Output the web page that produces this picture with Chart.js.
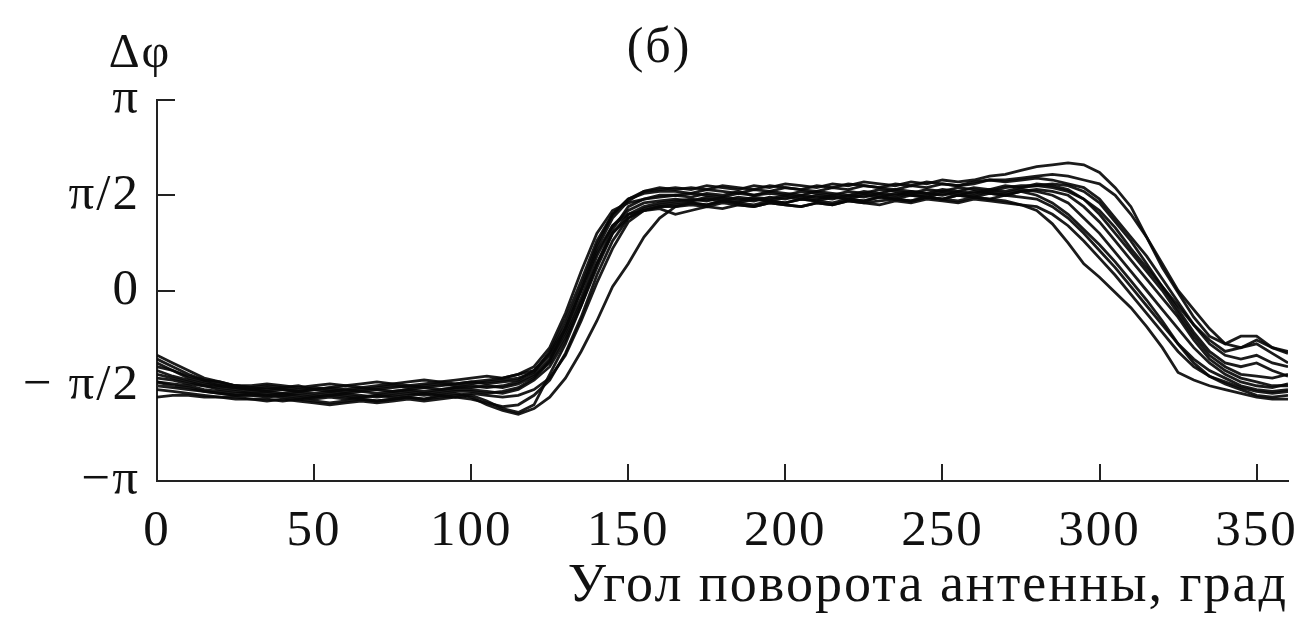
<!DOCTYPE html>
<html>
<head>
<meta charset="utf-8">
<script src="https://cdn.jsdelivr.net/npm/chart.js@4"></script>
<style>
  html, body { margin: 0; padding: 0; background: #fff; }
  #wrap { width: 1302px; height: 622px; }
</style>
</head>
<body>
<div id="wrap"><canvas id="chart"></canvas></div>
<script>
// antenna rotation angle, degrees (step 5)
const angles = [];
for (let a = 0; a <= 360; a += 5) angles.push(a);

// phase difference, in units of pi, one array per measurement run
const runA = [-0.36,-0.40,-0.44,-0.47,-0.49,-0.50,-0.51,
  -0.50,-0.51,-0.50,-0.52,-0.51,-0.50,-0.51,-0.50,-0.49,-0.50,-0.49,-0.48,-0.49,
  -0.48,-0.47,-0.46,-0.44,-0.40,
  -0.30,-0.12,0.10,0.30,0.42,0.46,0.48,0.49,
  0.50,0.49,0.51,0.50,0.52,0.50,0.51,0.50,0.52,0.51,0.50,0.52,0.51,0.53,0.52,0.51,0.53,0.52,0.54,0.53,0.52,0.54,0.55,
  0.55,0.54,0.52,0.48,0.40,0.30,0.20,0.10,0.00,-0.12,-0.24,-0.34,-0.40,-0.44,-0.45,-0.46,-0.44];
const runB = [-0.40,-0.42,-0.45,-0.47,-0.48,-0.50,-0.50,
  -0.49,-0.50,-0.51,-0.50,-0.49,-0.50,-0.49,-0.48,-0.49,-0.48,-0.47,-0.48,-0.47,
  -0.46,-0.45,-0.46,-0.44,-0.42,
  -0.34,-0.20,0.00,0.22,0.38,0.47,0.52,0.53,
  0.54,0.53,0.55,0.54,0.53,0.55,0.54,0.56,0.55,0.54,0.56,0.55,0.57,0.56,0.55,0.57,0.56,0.58,0.57,0.58,0.60,0.61,0.63,
  0.65,0.66,0.67,0.66,0.62,0.54,0.44,0.28,0.12,-0.01,-0.14,-0.24,-0.28,-0.24,-0.24,-0.30,-0.33];
const runC = [-0.52,-0.53,-0.54,-0.55,-0.56,-0.56,-0.57,
  -0.57,-0.58,-0.57,-0.58,-0.59,-0.58,-0.57,-0.58,-0.57,-0.56,-0.57,-0.55,-0.56,
  -0.55,-0.58,-0.62,-0.64,-0.60,
  -0.44,-0.28,-0.08,0.14,0.30,0.38,0.42,0.43,
  0.40,0.42,0.44,0.43,0.45,0.44,0.46,0.45,0.44,0.46,0.45,0.47,0.46,0.47,0.48,0.47,0.49,0.48,0.47,0.49,0.48,0.47,0.45,
  0.42,0.35,0.25,0.14,0.07,-0.01,-0.09,-0.19,-0.30,-0.43,-0.47,-0.50,-0.52,-0.54,-0.56,-0.57,-0.57];
const runD = [-0.44,-0.46,-0.48,-0.50,-0.51,-0.52,-0.53,
  -0.53,-0.52,-0.53,-0.54,-0.53,-0.52,-0.53,-0.54,-0.53,-0.52,-0.51,-0.52,-0.51,
  -0.50,-0.51,-0.50,-0.48,-0.44,
  -0.36,-0.22,-0.04,0.18,0.34,0.42,0.46,0.47,
  0.48,0.47,0.49,0.48,0.47,0.49,0.48,0.50,0.49,0.48,0.50,0.49,0.51,0.50,0.49,0.51,0.50,0.52,0.51,0.50,0.52,0.51,0.53,
  0.52,0.50,0.46,0.38,0.30,0.20,0.10,0.00,-0.10,-0.20,-0.30,-0.38,-0.44,-0.48,-0.50,-0.51,-0.49];
const runE = [-0.34,-0.38,-0.42,-0.46,-0.48,-0.50,-0.51,
  -0.52,-0.51,-0.52,-0.51,-0.52,-0.53,-0.52,-0.51,-0.50,-0.51,-0.50,-0.49,-0.50,
  -0.49,-0.48,-0.47,-0.46,-0.43,
  -0.32,-0.15,0.05,0.26,0.40,0.48,0.51,0.52,
  0.52,0.51,0.53,0.52,0.51,0.53,0.52,0.54,0.53,0.52,0.54,0.53,0.55,0.54,0.53,0.55,0.54,0.56,0.55,0.56,0.58,0.58,0.59,
  0.60,0.61,0.60,0.58,0.56,0.50,0.40,0.28,0.14,0.00,-0.10,-0.20,-0.28,-0.30,-0.26,-0.30,-0.32];
const runF = [-0.48,-0.50,-0.51,-0.53,-0.54,-0.55,-0.55,
  -0.56,-0.55,-0.56,-0.57,-0.56,-0.57,-0.56,-0.55,-0.56,-0.55,-0.54,-0.55,-0.54,
  -0.56,-0.60,-0.63,-0.65,-0.62,
  -0.56,-0.46,-0.32,-0.16,0.02,0.14,0.28,0.38,
  0.44,0.46,0.45,0.47,0.46,0.48,0.47,0.46,0.48,0.47,0.49,0.48,0.47,0.49,0.48,0.50,0.49,0.48,0.50,0.49,0.51,0.50,0.52,
  0.50,0.46,0.40,0.32,0.24,0.15,0.05,-0.05,-0.16,-0.28,-0.38,-0.45,-0.49,-0.52,-0.55,-0.56,-0.55];
const runG = [-0.46,-0.47,-0.49,-0.50,-0.52,-0.53,-0.54,
  -0.54,-0.55,-0.54,-0.55,-0.54,-0.55,-0.56,-0.55,-0.54,-0.53,-0.54,-0.53,-0.52,
  -0.52,-0.53,-0.54,-0.52,-0.47,
  -0.40,-0.26,-0.08,0.12,0.30,0.40,0.44,0.46,
  0.47,0.48,0.47,0.49,0.48,0.47,0.49,0.48,0.50,0.49,0.48,0.50,0.49,0.51,0.50,0.52,0.51,0.50,0.52,0.51,0.53,0.52,0.54,
  0.55,0.56,0.55,0.52,0.46,0.36,0.26,0.14,0.02,-0.10,-0.22,-0.32,-0.38,-0.40,-0.38,-0.42,-0.45];
const runH = [-0.50,-0.51,-0.52,-0.53,-0.54,-0.55,-0.55,
  -0.55,-0.56,-0.57,-0.56,-0.55,-0.56,-0.57,-0.58,-0.57,-0.56,-0.57,-0.56,-0.55,
  -0.54,-0.55,-0.56,-0.55,-0.52,
  -0.46,-0.34,-0.16,0.04,0.22,0.36,0.42,0.44,
  0.45,0.46,0.45,0.47,0.46,0.45,0.47,0.46,0.48,0.47,0.46,0.48,0.47,0.49,0.48,0.47,0.49,0.48,0.50,0.49,0.48,0.50,0.49,
  0.48,0.44,0.38,0.30,0.21,0.12,0.02,-0.08,-0.18,-0.28,-0.36,-0.42,-0.46,-0.50,-0.52,-0.53,-0.52];
const runI = [-0.38,-0.42,-0.46,-0.48,-0.50,-0.51,-0.52,
  -0.51,-0.52,-0.53,-0.52,-0.51,-0.52,-0.51,-0.52,-0.51,-0.50,-0.51,-0.50,-0.49,
  -0.48,-0.49,-0.48,-0.47,-0.42,
  -0.33,-0.18,0.02,0.24,0.40,0.48,0.52,0.54,
  0.53,0.54,0.53,0.55,0.54,0.53,0.55,0.54,0.53,0.55,0.54,0.56,0.55,0.54,0.56,0.55,0.57,0.56,0.55,0.57,0.58,0.57,0.58,
  0.59,0.58,0.56,0.54,0.48,0.38,0.28,0.18,0.06,-0.06,-0.18,-0.28,-0.34,-0.36,-0.34,-0.38,-0.40];
const runJ = [-0.42,-0.45,-0.47,-0.49,-0.50,-0.51,-0.52,
  -0.53,-0.54,-0.53,-0.52,-0.53,-0.54,-0.53,-0.52,-0.53,-0.52,-0.53,-0.52,-0.51,
  -0.51,-0.50,-0.51,-0.49,-0.45,
  -0.38,-0.24,-0.06,0.14,0.32,0.44,0.48,0.50,
  0.50,0.51,0.50,0.49,0.51,0.50,0.52,0.51,0.50,0.52,0.51,0.50,0.52,0.51,0.53,0.52,0.51,0.53,0.52,0.54,0.53,0.55,0.54,
  0.56,0.55,0.53,0.48,0.42,0.33,0.22,0.12,0.02,-0.08,-0.18,-0.26,-0.32,-0.30,-0.28,-0.33,-0.38];
const runK = [-0.48,-0.49,-0.50,-0.52,-0.53,-0.54,-0.54,
  -0.55,-0.54,-0.55,-0.56,-0.55,-0.54,-0.55,-0.56,-0.55,-0.54,-0.55,-0.54,-0.53,
  -0.53,-0.54,-0.53,-0.51,-0.46,
  -0.37,-0.20,0.00,0.20,0.34,0.40,0.42,0.44,
  0.44,0.45,0.44,0.46,0.45,0.44,0.46,0.45,0.44,0.46,0.45,0.47,0.46,0.45,0.47,0.46,0.48,0.47,0.46,0.48,0.47,0.46,0.45,
  0.44,0.40,0.34,0.26,0.17,0.08,-0.02,-0.12,-0.22,-0.32,-0.40,-0.45,-0.48,-0.51,-0.53,-0.54,-0.53];
const runL = [-0.56,-0.55,-0.55,-0.56,-0.56,-0.57,-0.57,
  -0.58,-0.57,-0.58,-0.59,-0.60,-0.59,-0.58,-0.59,-0.58,-0.57,-0.58,-0.57,-0.56,
  -0.57,-0.59,-0.61,-0.60,-0.55,
  -0.47,-0.33,-0.14,0.08,0.26,0.38,0.43,0.45,
  0.46,0.47,0.48,0.47,0.49,0.48,0.47,0.49,0.48,0.50,0.49,0.48,0.50,0.49,0.51,0.50,0.49,0.51,0.50,0.52,0.51,0.50,0.52,
  0.53,0.52,0.50,0.44,0.36,0.26,0.16,0.06,-0.04,-0.14,-0.26,-0.36,-0.42,-0.46,-0.48,-0.50,-0.50];

const runs = [runA, runB, runC, runD, runE, runF, runG, runH, runI, runJ, runK, runL];

const xTicks = [0, 50, 100, 150, 200, 250, 300, 350];
const yTicks = [-1, -0.5, 0, 0.5, 1];
const yTickLabels = ["\u2212\u03c0", "\u2212 \u03c0/2", "0", "\u03c0/2", "\u03c0"];

const serif = "'Liberation Serif', 'Times New Roman', serif";

// the scanned figure has wide, loosely set type
const spacingPlugin = {
  id: "spacing",
  beforeLayout(chart) { chart.ctx.letterSpacing = "2px"; },
  beforeDraw(chart) { chart.ctx.letterSpacing = "2px"; }
};

// ticks inside the frame + the two free labels
const framePlugin = {
  id: "frame",
  afterDraw(chart) {
    const ctx = chart.ctx;
    const xs = chart.scales.x, ys = chart.scales.y;
    const area = chart.chartArea;
    ctx.save();
    ctx.strokeStyle = "#222";
    ctx.lineWidth = 2;
    ctx.beginPath();
    xTicks.forEach(v => {
      if (v === 0) return;
      const px = Math.round(xs.getPixelForValue(v));
      ctx.moveTo(px, area.bottom);
      ctx.lineTo(px, area.bottom - 17);
    });
    yTicks.forEach(v => {
      if (v === -1) return;
      const py = Math.round(ys.getPixelForValue(v));
      ctx.moveTo(area.left, py);
      ctx.lineTo(area.left + 18, py);
    });
    ctx.stroke();

    ctx.fillStyle = "#111";
    ctx.font = "48px " + serif;
    ctx.textAlign = "center";
    ctx.textBaseline = "alphabetic";
    ctx.fillText("\u0394\u03c6", 140, 67);
    ctx.font = "50px " + serif;
    ctx.fillText("(\u0431)", 659, 62);
    ctx.restore();
  }
};

const ctx = document.getElementById("chart").getContext("2d");

new Chart(ctx, {
  type: "line",
  data: {
    datasets: runs.map(r => ({
      data: angles.map((a, i) => ({ x: a, y: r[i] })),
      borderColor: "rgba(8, 8, 8, 0.92)",
      borderWidth: 2.8,
      pointRadius: 0,
      tension: 0,
      fill: false
    }))
  },
  options: {
    responsive: true,
    maintainAspectRatio: false,
    animation: false,
    layout: { padding: { left: 0, right: 14, top: 100, bottom: 0 } },
    plugins: {
      legend: { display: false },
      title: { display: false },
      tooltip: { enabled: false }
    },
    scales: {
      x: {
        type: "linear",
        min: 0,
        max: 360,
        afterFit: s => { s.height = 141; s.paddingLeft = 0; s.paddingRight = 0; },
        afterBuildTicks: s => { s.ticks = xTicks.map(v => ({ value: v })); },
        grid: { display: false, drawTicks: false },
        border: { display: true, color: "#222", width: 2 },
        ticks: {
          padding: 20,
          color: "#111",
          font: { family: serif, size: 51 },
          maxRotation: 0
        },
        title: {
          display: true,
          text: "Угол поворота антенны, град",
          align: "end",
          color: "#111",
          font: { family: serif, size: 54 },
          padding: { top: 0, bottom: 3 }
        }
      },
      y: {
        min: -1,
        max: 1,
        afterFit: s => { s.width = 157; s.paddingTop = 0; s.paddingBottom = 0; },
        afterBuildTicks: s => { s.ticks = yTicks.map(v => ({ value: v })); },
        grid: { display: false, drawTicks: false },
        border: { display: true, color: "#222", width: 2 },
        ticks: {
          padding: 17,
          color: "#111",
          font: { family: serif, size: 51 },
          callback: (v) => yTickLabels[yTicks.indexOf(v)]
        }
      }
    }
  },
  plugins: [spacingPlugin, framePlugin]
});
</script>
</body>
</html>
